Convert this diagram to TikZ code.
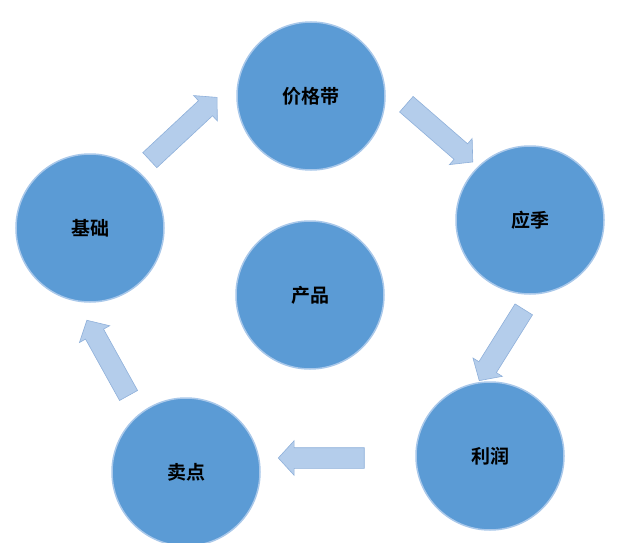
\documentclass[tikz,border=0pt]{standalone}
\usepackage{fontspec}
\setmainfont{Noto Sans CJK SC}[BoldFont={Noto Sans CJK SC Bold}]
\usetikzlibrary{shapes.arrows}
\definecolor{ballblue}{HTML}{5B9BD5}
\definecolor{ballrim}{HTML}{A9C8EA}
\definecolor{arrowfill}{HTML}{B4CDEB}
\definecolor{arrowrim}{HTML}{8FB0DA}
\tikzset{
  ball/.style={circle, fill=ballblue, draw=ballrim, line width=1.5pt,
    minimum size=148pt, font=\bfseries\fontsize{19}{22}\selectfont},
  flow/.style={single arrow, fill=arrowfill, draw=arrowrim, line width=0.6pt,
    inner xsep=0pt, inner ysep=10pt, single arrow head extend=7pt,
    single arrow tip angle=95, minimum height=#1},
}
\begin{document}
\begin{tikzpicture}[x=1pt, y=-1pt]
\useasboundingbox (0,0) rectangle (640,543);

\node[ball] (price) at (311,96) {价格带};
\node[ball] (season) at (530,220) {应季};
\node[ball] (product) at (310,295) {产品};
\node[ball] (base) at (90,228) {基础};
\node[ball] (profit) at (490,456) {利润};
\node[ball] (sell) at (186,472) {卖点};

% flow arrows
\node[flow=92pt, rotate=43] (a1) at (180,132) {};
\node[flow=88pt, rotate=-41] (a2) at (436,130) {};
\node[flow=84pt, rotate=-122] (a3) at (504,341) {};
\node[flow=86pt, rotate=180] (a4) at (326,458) {};
\node[flow=86pt, rotate=119] (a5) at (110,362) {};

\end{tikzpicture}
\end{document}
